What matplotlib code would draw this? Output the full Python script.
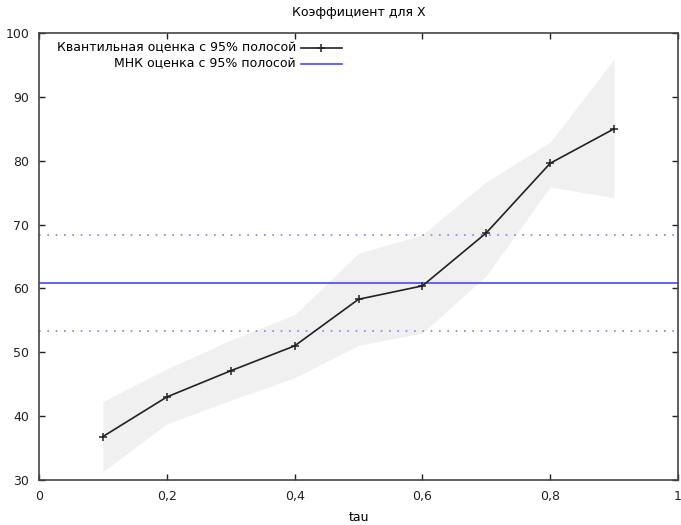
import matplotlib
matplotlib.use('Agg')
import matplotlib.pyplot as plt
from matplotlib.ticker import FuncFormatter

# quantile regression coefficient for X and its 95% band
tau = [0.1, 0.2, 0.3, 0.4, 0.5, 0.6, 0.7, 0.8, 0.9]
coef = [36.8, 43.0, 47.1, 51.0, 58.3, 60.4, 68.7, 79.6, 85.0]
upper = [42.3, 47.4, 51.9, 55.9, 65.5, 68.4, 76.7, 82.9, 95.9]
lower = [31.3, 38.8, 42.5, 46.0, 51.1, 53.0, 62.0, 75.9, 74.2]

# OLS estimate and its 95% bounds
ols = 60.9
ols_lo = 53.4
ols_hi = 68.4

xticks = [0, 0.2, 0.4, 0.6, 0.8, 1]
yticks = [30, 40, 50, 60, 70, 80, 90, 100]

plt.rcParams['font.family'] = ['DejaVu Sans']
plt.rcParams['font.size'] = 9

fig = plt.figure(figsize=(6.81, 5.25), dpi=100)
ax = fig.add_axes([39/681, 1-480/525, (678-39)/681, (480-33)/525])

ax.fill_between(tau, lower, upper, color='#f0f0f0', lw=0, zorder=1)
ax.axhline(ols, color='#4848ff', lw=1.2, zorder=2)
ax.axhline(ols_hi, color='#8080ff', lw=1.2, ls=(0, (1, 4)), zorder=2)
ax.axhline(ols_lo, color='#8080ff', lw=1.2, ls=(0, (1, 4)), zorder=2)
ax.plot(tau, coef, color='#222222', lw=1.2, marker='+', ms=6, mew=1.1, zorder=3)

ax.set_xlim(0, 1)
ax.set_ylim(30, 100)
ax.set_xticks(xticks)
ax.set_yticks(yticks)
ax.xaxis.set_major_formatter(FuncFormatter(lambda v, p: ('%g' % v).replace('.', ',')))
ax.tick_params(direction='in', top=True, right=True, length=4, width=1, pad=7,
               labelcolor='#222222', color='#222222')
for s in ax.spines.values():
    s.set_color('#444444')
    s.set_linewidth(1.2)

ax.set_title('Коэффициент для X', fontsize=9, pad=12)
ax.set_xlabel('tau', fontsize=9, labelpad=6)

# gnuplot-style legend: right aligned text, sample on the right
ax.text(0.402, 0.967, 'Квантильная оценка с 95% полосой', transform=ax.transAxes,
        ha='right', va='center', fontsize=9)
ax.text(0.402, 0.931, 'МНК оценка с 95% полосой', transform=ax.transAxes,
        ha='right', va='center', fontsize=9)
ax.plot([0.41, 0.474], [0.967, 0.967], transform=ax.transAxes, color='#222222', lw=1.2)
ax.plot([0.442], [0.967], transform=ax.transAxes, color='#222222', marker='+', ms=6, mew=1.1)
ax.plot([0.41, 0.474], [0.931, 0.931], transform=ax.transAxes, color='#4848ff', lw=1.2)

fig.savefig('out.png', dpi=100)
